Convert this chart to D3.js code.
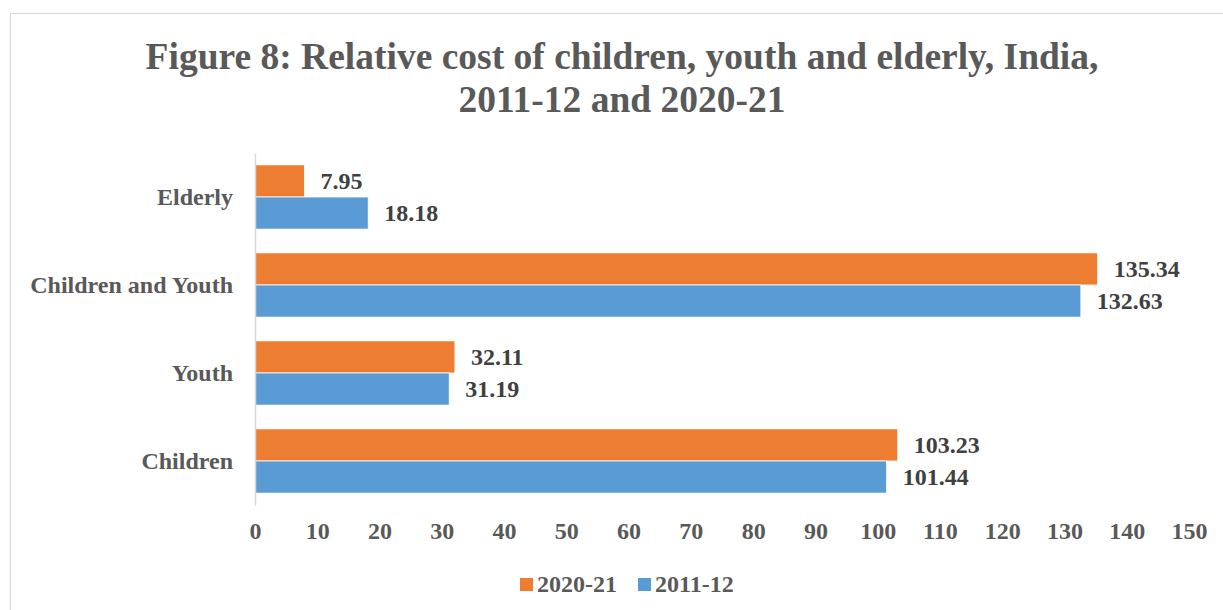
<!DOCTYPE html>
<html>
<head>
<meta charset="utf-8">
<script src="https://cdn.jsdelivr.net/npm/d3@7"></script>
<style>
  body { margin: 0; background: #fff; }
  text { font-family: "Liberation Serif", "Times New Roman", serif; font-weight: bold; }
</style>
</head>
<body>
<div id="chart"></div>
<script>
// chart data
const categories = ['Elderly', 'Children and Youth', 'Youth', 'Children'];
const seriesNames = ['2020-21', '2011-12'];
const values2020 = [7.95, 135.34, 32.11, 103.23];
const values2011 = [18.18, 132.63, 31.19, 101.44];
const xTicks = [0, 10, 20, 30, 40, 50, 60, 70, 80, 90, 100, 110, 120, 130, 140, 150];
const colors = ['#ED7D31', '#5B9BD5'];

const width = 1223;
const height = 610;

const svg = d3.select('#chart')
  .append('svg')
  .attr('width', width)
  .attr('height', height);

// outer frame
svg.append('rect')
  .attr('x', 10.5).attr('y', 13.5)
  .attr('width', 1230).attr('height', 620)
  .attr('fill', 'none')
  .attr('stroke', '#d9d9d9')
  .attr('stroke-width', 1.2);

// title
svg.append('text')
  .attr('x', 622).attr('y', 69)
  .attr('text-anchor', 'middle')
  .attr('fill', '#595959')
  .style('font-size', '37.5px')
  .text('Figure 8: Relative cost of children, youth and elderly, India,');
svg.append('text')
  .attr('x', 622).attr('y', 112)
  .attr('text-anchor', 'middle')
  .attr('fill', '#595959')
  .style('font-size', '37.5px')
  .text('2011-12 and 2020-21');

const xScale = d3.scaleLinear()
  .domain([0, 150])
  .range([255, 1189]);

const yScale = d3.scaleBand()
  .domain(categories)
  .range([153, 505])
  .paddingInner(0.27)
  .paddingOuter(0.135);

const sub = d3.scaleBand()
  .domain(seriesNames)
  .range([0, yScale.bandwidth()]);

const rows = categories.map((c, i) => ({
  category: c,
  values: [values2020[i], values2011[i]]
}));

const groups = svg.selectAll('.group')
  .data(rows)
  .enter()
  .append('g')
  .attr('class', 'group')
  .attr('transform', d => `translate(0, ${yScale(d.category)})`);

groups.selectAll('rect')
  .data(d => d.values.map((v, j) => ({ series: seriesNames[j], value: v, color: colors[j] })))
  .enter()
  .append('rect')
  .attr('x', xScale(0))
  .attr('y', d => sub(d.series))
  .attr('width', d => xScale(d.value) - xScale(0))
  .attr('height', sub.bandwidth())
  .attr('fill', d => d.color)
  .attr('stroke', '#fff')
  .attr('stroke-width', 0.8);

groups.selectAll('.val')
  .data(d => d.values.map((v, j) => ({ series: seriesNames[j], value: v })))
  .enter()
  .append('text')
  .attr('class', 'val')
  .attr('x', d => xScale(d.value) + 16)
  .attr('y', d => sub(d.series) + sub.bandwidth() / 2)
  .attr('dy', '0.35em')
  .attr('fill', '#404040')
  .style('font-size', '24px')
  .text(d => d3.format('.2f')(d.value));

// category axis
const yAxis = svg.append('g')
  .attr('transform', `translate(${xScale(0)}, 0)`)
  .call(d3.axisLeft(yScale).tickSize(0).tickPadding(22));
yAxis.select('.domain').attr('stroke', '#d9d9d9').attr('stroke-width', 1.5);
yAxis.selectAll('text')
  .attr('fill', '#595959')
  .style('font-size', '24px')
  .style('font-family', '"Liberation Serif", serif');

// value axis (labels only)
const xAxis = svg.append('g')
  .attr('transform', 'translate(0, 505)')
  .call(d3.axisBottom(xScale).tickValues(xTicks).tickSize(0).tickPadding(17));
xAxis.select('.domain').remove();
xAxis.selectAll('text')
  .attr('fill', '#595959')
  .style('font-size', '24px')
  .style('font-family', '"Liberation Serif", serif');

// legend
const legend = svg.append('g').attr('transform', 'translate(520, 584)');
const legendX = [0, 118];
seriesNames.forEach((name, i) => {
  legend.append('rect')
    .attr('x', legendX[i]).attr('y', -6)
    .attr('width', 13).attr('height', 13)
    .attr('fill', colors[i]);
  legend.append('text')
    .attr('x', legendX[i] + 17).attr('y', 0)
    .attr('dy', '0.35em')
    .attr('fill', '#595959')
    .style('font-size', '24px')
    .text(name);
});
</script>
</body>
</html>
